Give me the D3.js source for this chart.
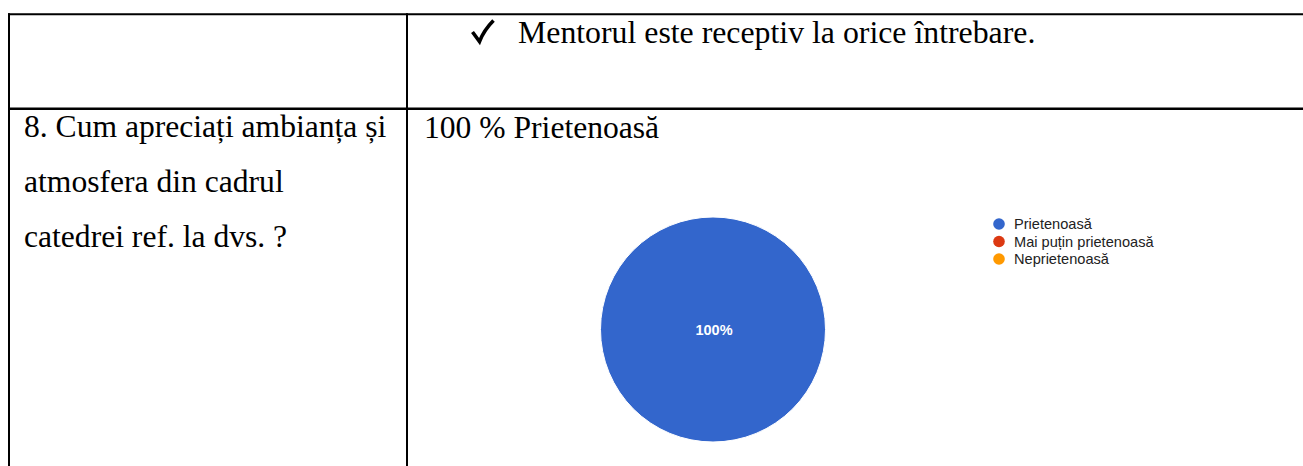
<!DOCTYPE html>
<html>
<head>
<meta charset="utf-8">
<script src="https://cdn.jsdelivr.net/npm/d3@7"></script>
<style>
  html, body { margin: 0; padding: 0; background: #fff; }
  svg { display: block; }
  .serif { font-family: "Liberation Serif", "Times New Roman", Tinos, "DejaVu Serif", serif; }
  .sans { font-family: Arial, "Liberation Sans", sans-serif; }
</style>
</head>
<body>
<svg id="chart" width="1303" height="466"></svg>
<script>
// ---- data ----
const categories = ["Prietenoasă", "Mai puțin prietenoasă", "Neprietenoasă"];
const values = [100, 0, 0];
const colors = ["#3366cc", "#dc3912", "#ff9900"];
const questionLines = ["8. Cum apreciați ambianța și", "atmosfera din cadrul", "catedrei ref. la dvs. ?"];
const answerText = "100 % Prietenoasă";
const bulletText = "Mentorul este receptiv la orice întrebare.";

const svg = d3.select("#chart");

// ---- table grid ----
const grid = svg.append("g").attr("stroke", "#000");
grid.append("line").attr("x1", 8).attr("x2", 1303).attr("y1", 14.3).attr("y2", 14.3).attr("stroke-width", 2);
grid.append("line").attr("x1", 8).attr("x2", 1303).attr("y1", 108.8).attr("y2", 108.8).attr("stroke-width", 2.4);
grid.append("line").attr("x1", 9).attr("x2", 9).attr("y1", 13.3).attr("y2", 466).attr("stroke-width", 2);
grid.append("line").attr("x1", 407).attr("x2", 407).attr("y1", 13.3).attr("y2", 466).attr("stroke-width", 2);

// ---- top row bullet (check mark) ----
svg.append("path")
  .attr("d", "M472.5,32 L479.5,41.5 Q484,30 493.5,20.5")
  .attr("fill", "none").attr("stroke", "#000").attr("stroke-width", 3.6)
  .attr("stroke-linejoin", "miter");
svg.append("text").attr("class", "serif").attr("x", 518).attr("y", 43)
  .attr("font-size", 31.8).attr("fill", "#000").text(bulletText);

// ---- question column ----
svg.append("g").selectAll("text").data(questionLines).join("text")
  .attr("class", "serif")
  .attr("x", 24).attr("y", (d, i) => 137 + i * 55)
  .attr("font-size", 31.6).attr("fill", "#000")
  .text(d => d);

svg.append("text").attr("class", "serif").attr("x", 424).attr("y", 138)
  .attr("font-size", 31.6).attr("fill", "#000")
  .text(answerText);

// ---- pie ----
const cx = 713, cy = 329.5, r = 112.5;
const total = d3.sum(values);
const pie = d3.pie().sort(null).value(d => d.v);
const data = categories.map((c, i) => ({ c, v: values[i], col: colors[i] }));
const arcs = pie(data);
const arc = d3.arc().innerRadius(0).outerRadius(r);
const labelArc = d3.arc().innerRadius(r * 0.6).outerRadius(r * 0.6);
const pg = svg.append("g").attr("transform", `translate(${cx},${cy})`);
pg.selectAll("path").data(arcs.filter(a => a.data.v > 0)).join("path")
  .attr("d", arc).attr("fill", d => d.data.col)
  .attr("stroke", "#fff").attr("stroke-width", 1);
pg.selectAll("text").data(arcs.filter(a => a.data.v > 0)).join("text")
  .attr("class", "sans")
  .attr("transform", d => (d.endAngle - d.startAngle) >= 2 * Math.PI - 1e-6 ? "translate(1,0)" : `translate(${labelArc.centroid(d)})`)
  .attr("text-anchor", "middle").attr("dy", "0.35em")
  .attr("font-weight", "bold").attr("font-size", 14.5)
  .attr("fill", "#fff")
  .text(d => d3.format(".0%")(d.data.v / total));

// ---- legend ----
const legend = svg.append("g").attr("transform", "translate(999,224)");
const items = legend.selectAll("g").data(data).join("g")
  .attr("transform", (d, i) => `translate(0,${i * 17.5})`);
items.append("circle").attr("r", 5.8).attr("fill", d => d.col);
items.append("text").attr("class", "sans").attr("x", 15).attr("dy", "0.36em")
  .attr("font-size", 14.6).attr("fill", "#222")
  .text(d => d.c);
</script>
</body>
</html>
